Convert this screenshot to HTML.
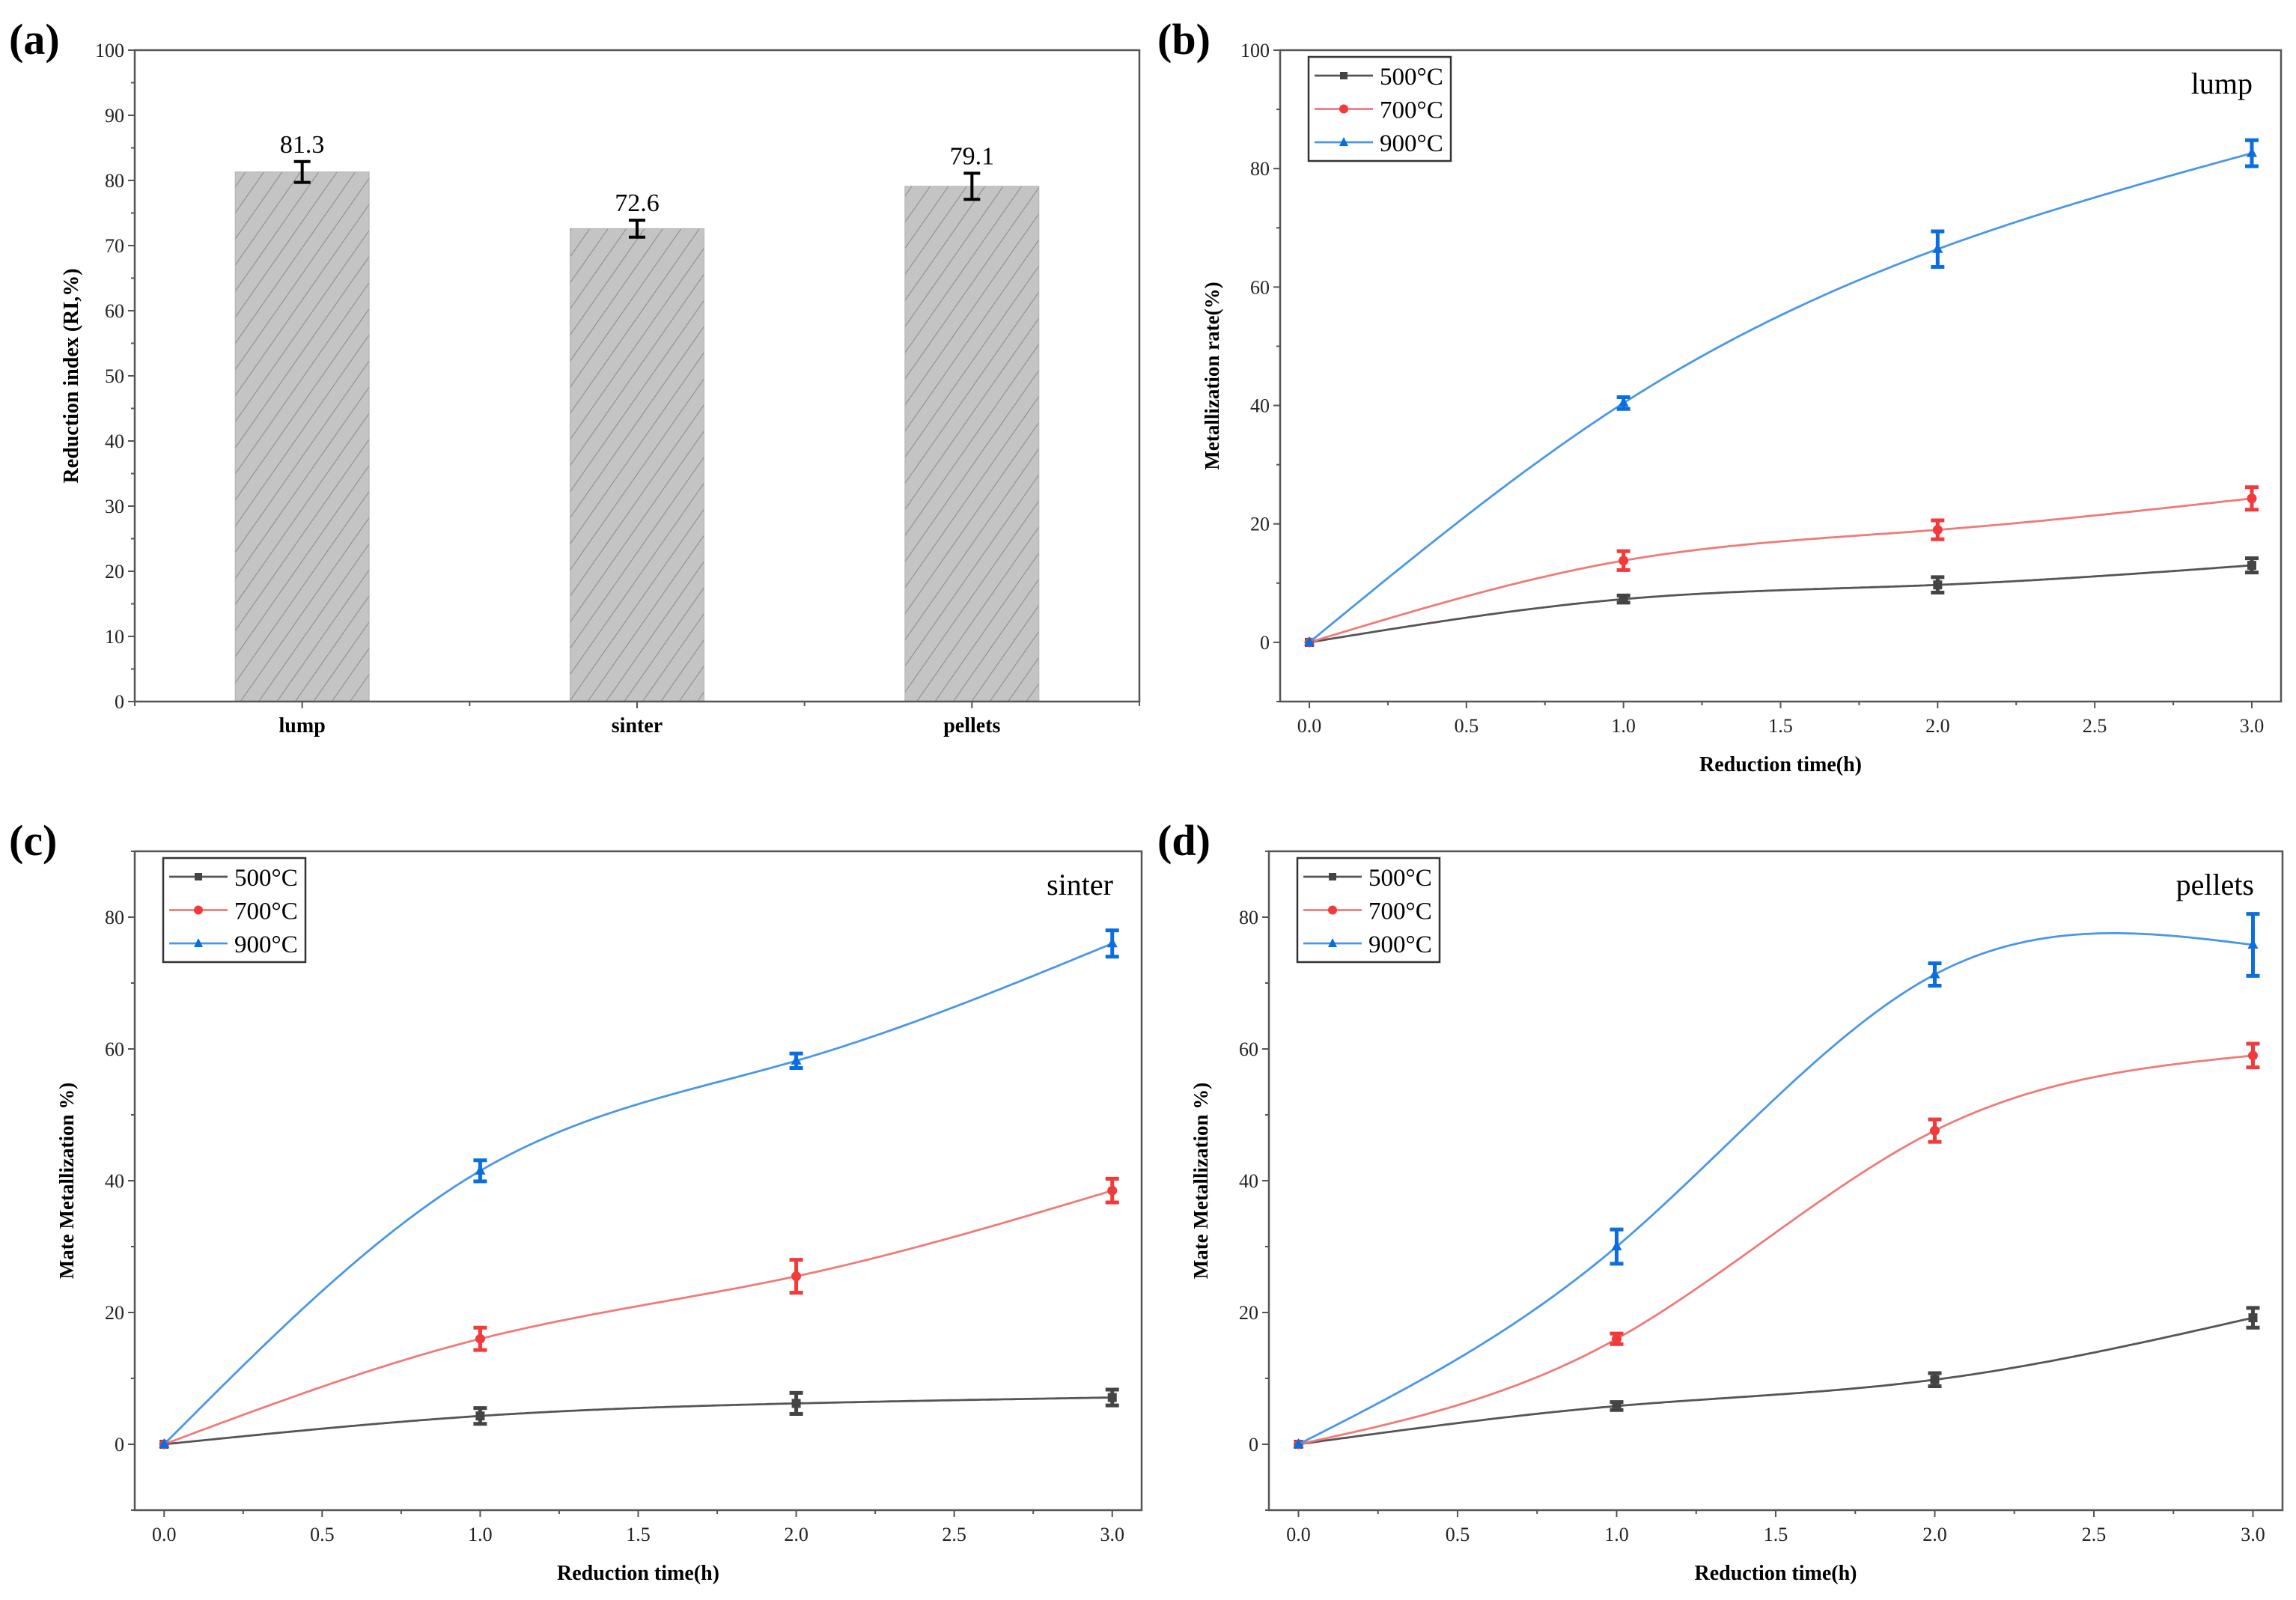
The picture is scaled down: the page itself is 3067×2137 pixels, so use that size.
<!DOCTYPE html>
<html><head><meta charset="utf-8"><style>
html,body{margin:0;padding:0;background:#fff;}
svg{display:block;}
svg text{font-family:"Liberation Serif","Times New Roman",serif;}
</style></head><body>
<svg id="fig" width="3067" height="2137" viewBox="0 0 3067 2137" xmlns="http://www.w3.org/2000/svg">
<defs>
<pattern id="hatch" patternUnits="userSpaceOnUse" width="20" height="20" patternTransform="rotate(35)">
<rect width="20" height="20" fill="#c4c4c4"/>
<line x1="0" y1="0" x2="0" y2="20" stroke="#8a8a8a" stroke-width="2"/>
</pattern>
</defs>
</svg>
<script>
// ---- data: panel (a)
const barCategories = ["lump","sinter","pellets"];
const barValues = [81.3, 72.6, 79.1];
const barErrors = [1.6, 1.3, 2.0];
const barYTicks = [0,10,20,30,40,50,60,70,80,90,100];
// ---- data: line panels
const timeValues = [0, 1, 2, 3];
const xTickLabels = ["0.0","0.5","1.0","1.5","2.0","2.5","3.0"];
const seriesNames = ["500\u00B0C","700\u00B0C","900\u00B0C"];
const lump500 = [0, 7.3, 9.7, 13.0];
const lump500Err = [0.3, 0.6, 1.3, 1.2];
const lump700 = [0, 13.8, 19.0, 24.3];
const lump700Err = [0.3, 1.6, 1.6, 1.9];
const lump900 = [0, 40.4, 66.4, 82.6];
const lump900Err = [0.3, 1.0, 3.0, 2.2];
const sinter500 = [0, 4.3, 6.2, 7.1];
const sinter500Err = [0.3, 1.2, 1.6, 1.2];
const sinter700 = [0, 16.0, 25.5, 38.5];
const sinter700Err = [0.3, 1.7, 2.5, 1.8];
const sinter900 = [0, 41.5, 58.2, 76.0];
const sinter900Err = [0.3, 1.6, 1.1, 2.0];
const pellet500 = [0, 5.8, 9.8, 19.2];
const pellet500Err = [0.3, 0.6, 1.0, 1.5];
const pellet700 = [0, 16.0, 47.6, 59.0];
const pellet700Err = [0.3, 0.8, 1.7, 1.8];
const pellet900 = [0, 30.0, 71.3, 75.8];
const pellet900Err = [0.3, 2.6, 1.7, 4.7];
const yTicksB = [0,20,40,60,80,100];
const yTicksCD = [0,20,40,60,80];

const NS="http://www.w3.org/2000/svg";
const svg=document.getElementById('fig');
function el(tag,attrs,parent,text){const e=document.createElementNS(NS,tag);for(const k in attrs)e.setAttribute(k,attrs[k]);if(text!==undefined)e.textContent=text;(parent||svg).appendChild(e);return e;}

// ---------- panel (a)
(function(){
  const g=el('g',{});
  
  
  const L=180,R=1522,T=67,B=937;
  const sx=i=>L+(R-L)*((i+0.5)/3);
  const sy=v=>B-(B-T)*v/100;
  const lab=el('text',{x:12,y:72,'font-size':58,'font-weight':'bold'},g,'(a)');
  
  
  const bw=(R-L)/3*0.4;
  barValues.forEach((v,i)=>{
    const r=el('rect',{x:sx(i)-bw/2,y:sy(v),width:bw,height:B-sy(v),fill:'url(#hatch)',stroke:'#b0b0b0','stroke-width':1},g);
    
    
    const e=barErrors[i],cx=sx(i);
    const eb=el('path',{d:`M${cx},${sy(v+e)}V${sy(v-e)}M${cx-11},${sy(v+e)}H${cx+11}M${cx-11},${sy(v-e)}H${cx+11}`,stroke:'#000','stroke-width':4,fill:'none'},g);
    
    
    const t=el('text',{x:cx,y:sy(v+e)-12,'font-size':34,'text-anchor':'middle'},g,v.toFixed(1));
    
    
    const xl=el('text',{x:cx,y:978,'font-size':28,'font-weight':'bold','text-anchor':'middle'},g,barCategories[i]);
    
    
  });
  const fr=el('rect',{x:L,y:T,width:R-L,height:B-T,fill:'none',stroke:'#555','stroke-width':2.5},g);
  
  
  for(let v=0;v<=100;v+=5){el('line',{x1:L,x2:L-(v%10?5:9),y1:sy(v),y2:sy(v),stroke:'#555','stroke-width':2},g);}
  barYTicks.forEach(v=>{const t=el('text',{x:L-14,y:sy(v)+9,'font-size':26,'text-anchor':'end',fill:'#222'},g,v);
    
    });
  for(let k=0;k<=6;k++){const x=L+(R-L)*k/6;el('line',{x1:x,x2:x,y1:B,y2:B+(k%2?9:6),stroke:'#555','stroke-width':2},g);}
  const yt=el('text',{x:0,y:0,'font-size':28,'font-weight':'bold','text-anchor':'middle',transform:`translate(104,${(T+B)/2}) rotate(-90)`},g,'Reduction index (RI,%)');
  
  
})();

// ---------- natural cubic spline
function spline(xs,ys){
  const n=xs.length-1,h=[],a=[],l=[1],mu=[0],z=[0],c=new Array(n+1).fill(0),b=[],d=[];
  for(let i=0;i<n;i++)h.push(xs[i+1]-xs[i]);
  for(let i=1;i<n;i++)a[i]=3/h[i]*(ys[i+1]-ys[i])-3/h[i-1]*(ys[i]-ys[i-1]);
  for(let i=1;i<n;i++){l[i]=2*(xs[i+1]-xs[i-1])-h[i-1]*mu[i-1];mu[i]=h[i]/l[i];z[i]=(a[i]-h[i-1]*z[i-1])/l[i];}
  for(let j=n-1;j>=0;j--){c[j]=(j>0?z[j]:0)-mu[j]*c[j+1];if(j===0)c[0]=0;b[j]=(ys[j+1]-ys[j])/h[j]-h[j]*(c[j+1]+2*c[j])/3;d[j]=(c[j+1]-c[j])/(3*h[j]);}
  return x=>{let i=Math.min(n-1,Math.max(0,xs.findIndex((v,k)=>k<n&&x<=xs[k+1])));if(i<0)i=n-1;const t=x-xs[i];return ys[i]+b[i]*t+c[i]*t*t+d[i]*t*t*t;};
}

const lineColors=['#555555','#f07a7a','#4a97e8'];
const markColors=['#444444','#f23a3a','#0a6ee0'];

function linePanel(cfg){
  const g=el('g',{});
  
  
  const {L,R,T,B,ymin,ymax}=cfg;
  const xmin=-0.093,xmax=3.093;
  const sx=v=>L+(R-L)*(v-xmin)/(xmax-xmin);
  const sy=v=>B-(B-T)*(v-ymin)/(ymax-ymin);
  const lab=el('text',{x:cfg.lx,y:T+5,'font-size':58,'font-weight':'bold'},g,'('+cfg.id+')');
  
  
  const fr=el('rect',{x:L,y:T,width:R-L,height:B-T,fill:'none',stroke:'#555','stroke-width':2.5},g);
  
  
  for(let v=ymin;v<=ymax;v+=10){el('line',{x1:L,x2:L-(v%20?5:9),y1:sy(v),y2:sy(v),stroke:'#555','stroke-width':2},g);}
  cfg.yticks.forEach(v=>{const t=el('text',{x:L-14,y:sy(v)+9,'font-size':26,'text-anchor':'end',fill:'#222'},g,v);
    
    });
  for(let v=0;v<=3.001;v+=0.25){const x=sx(v);el('line',{x1:x,x2:x,y1:B,y2:B+(Math.abs(v*2-Math.round(v*2))<0.01?9:5),stroke:'#555','stroke-width':2},g);}
  xTickLabels.forEach((s,i)=>{const t=el('text',{x:sx(i*0.5),y:B+41,'font-size':26,'text-anchor':'middle',fill:'#222'},g,s);
    
    });
  const xt=el('text',{x:(L+R)/2,y:B+93,'font-size':28,'font-weight':'bold','text-anchor':'middle'},g,'Reduction time(h)');
  
  
  const yt=el('text',{x:0,y:0,'font-size':27,'font-weight':'bold','text-anchor':'middle',transform:`translate(${L-82},${(T+B)/2}) rotate(-90)`},g,cfg.ytitle);
  
  
  const st=el('text',{x:R-38,y:T+58,'font-size':40,'text-anchor':'end'},g,cfg.sample);
  
  
  cfg.series.forEach((s,si)=>{
    const f=spline(timeValues,s.v);let d='';
    for(let k=0;k<=300;k++){const x=3*k/300;d+=(k?'L':'M')+sx(x).toFixed(1)+','+sy(f(x)).toFixed(1);}
    const p=el('path',{d,fill:'none',stroke:lineColors[si],'stroke-width':2.8},g);
    
    
    s.v.forEach((v,i)=>{
      const cx=sx(timeValues[i]),e=s.e[i];
      if(i>0){const eb=el('path',{d:`M${cx},${sy(v+e)}V${sy(v-e)}M${cx-9},${sy(v+e)}H${cx+9}M${cx-9},${sy(v-e)}H${cx+9}`,stroke:markColors[si],'stroke-width':5,fill:'none'},g);
        
        }
      let m;
      if(si===0)m=el('rect',{x:cx-6,y:sy(v)-6,width:12,height:12,fill:markColors[si]},g);
      else if(si===1)m=el('circle',{cx,cy:sy(v),r:6.5,fill:markColors[si]},g);
      else m=el('path',{d:`M${cx},${sy(v)-8}L${cx+7},${sy(v)+5}L${cx-7},${sy(v)+5}Z`,fill:markColors[si]},g);
      
      
    });
  });
  // legend
  const lg=el('g',{},g);
  
  
  el('rect',{x:L+38,y:T+9,width:190,height:139,fill:'#fff',stroke:'#333','stroke-width':2.5},lg);
  seriesNames.forEach((n,si)=>{
    const y=T+34+si*44.5,x0=L+46,x1=L+124,cx=(x0+x1)/2;
    const le=el('g',{},lg);
    
    
    el('line',{x1:x0,x2:x1,y1:y,y2:y,stroke:lineColors[si],'stroke-width':2.8},le);
    if(si===0)el('rect',{x:cx-5,y:y-5,width:10,height:10,fill:markColors[si]},le);
    else if(si===1)el('circle',{cx,cy:y,r:6,fill:markColors[si]},le);
    else el('path',{d:`M${cx},${y-7}L${cx+6},${y+5}L${cx-6},${y+5}Z`,fill:markColors[si]},le);
    el('text',{x:L+133,y:y+12,'font-size':33},le,n);
  });
}

linePanel({id:'b',L:1710,R:3047,T:67,B:937,ymin:-10,ymax:100,yticks:yTicksB,lx:1546,ytitle:'Metallization rate(%)',sample:'lump',
  series:[{v:lump500,e:lump500Err},{v:lump700,e:lump700Err},{v:lump900,e:lump900Err}]});
linePanel({id:'c',L:180,R:1525,T:1137,B:2017,ymin:-10,ymax:90,yticks:yTicksCD,lx:12,ytitle:'Mate Metallization %)',sample:'sinter',
  series:[{v:sinter500,e:sinter500Err},{v:sinter700,e:sinter700Err},{v:sinter900,e:sinter900Err}]});
linePanel({id:'d',L:1695,R:3049,T:1137,B:2017,ymin:-10,ymax:90,yticks:yTicksCD,lx:1546,ytitle:'Mate Metallization %)',sample:'pellets',
  series:[{v:pellet500,e:pellet500Err},{v:pellet700,e:pellet700Err},{v:pellet900,e:pellet900Err}]});
</script>
</body></html>
